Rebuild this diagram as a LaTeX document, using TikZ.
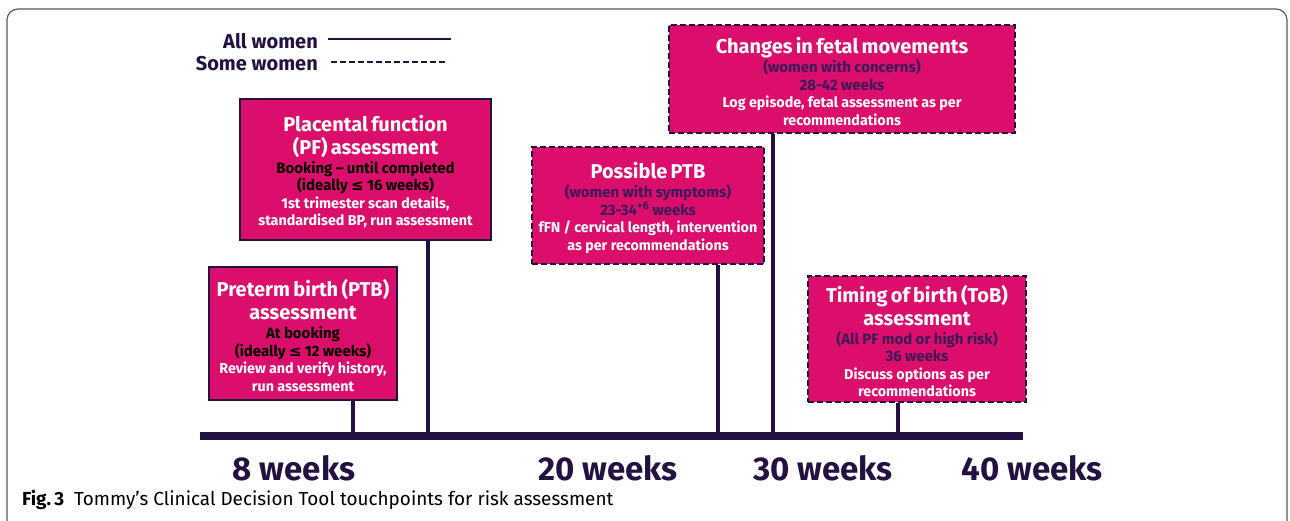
\documentclass[tikz,border=0pt]{standalone}
\usepackage{fontspec}
\setmainfont{Fira Sans}
\newfontfamily\symfont{DejaVu Sans}
\usetikzlibrary{calc}
\definecolor{magbox}{RGB}{220,14,108}
\definecolor{navy}{RGB}{36,17,66}
\definecolor{plum}{RGB}{62,24,88}
\definecolor{frame}{RGB}{90,90,90}
\newcommand{\hdline}[1]{{\fontsize{20}{23}\selectfont\color{white}\rule{0pt}{21pt}#1\par}}
\newcommand{\whenline}[2]{\vspace{1.5pt}{\fontsize{15}{17.5}\selectfont\color{#1}#2\par}}
\newcommand{\doline}[1]{{\fontsize{14.3}{17.5}\selectfont\color{white}#1\par}}
\newcommand{\lessEq}{{\symfont\bfseries ≤}}

\begin{document}
\begin{tikzpicture}[x=1pt,y=-1pt,
  box/.style={draw=navy, line width=2.6pt, fill=magbox, align=center, inner sep=0pt, font=\bfseries},
  somebox/.style={box, dash pattern=on 6pt off 3pt},
  stem/.style={navy, line width=4.5pt},
  wklabel/.style={text=navy, font=\bfseries\fontsize{33}{33}\selectfont, inner sep=0pt},
  legend/.style={text=navy, font=\bfseries\fontsize{20}{20}\selectfont, anchor=east, inner sep=0pt}]
\useasboundingbox (0,0) rectangle (1290,521);
% frame round the figure
\begin{scope}
\clip (0,0) rectangle (1290,521);
\draw[frame, line width=1.2pt, rounded corners=11pt] (7,9) rectangle (1287,532);
\end{scope}

% legend
\node[legend] (allw) at (318,41) {All women};
\node[legend] (somew) at (318,64) {Some women};
\coordinate (allend) at (451,39);
\coordinate (someend) at (447,62);
\draw[navy, line width=2.4pt] ([xshift=10pt]allw.east |- allend) -- (allend);
\draw[navy, line width=2.4pt, dash pattern=on 6pt off 3pt] ([xshift=13pt]somew.east |- someend) -- (someend);

% timeline
\coordinate (tl0) at (200,436);
\coordinate (tl1) at (1023,436);
\draw[navy, line width=8pt] (tl0) -- (tl1);

% touchpoint boxes
\node[box, minimum width=251pt, minimum height=141pt, text width=247pt] (pf) at (365.5,169.5) {%
\hdline{Placental function\\(PF) assessment}%
\whenline{black}{Booking -- until completed\\(ideally \lessEq{} 16 weeks)}%
\doline{1st trimester scan details,\\standardised BP, run assessment}};

\node[box, minimum width=188pt, minimum height=133pt, text width=184pt] (ptb) at (303,333.5) {%
\hdline{Preterm birth (PTB)\\assessment}%
\whenline{black}{At booking\\(ideally \lessEq{} 12 weeks)}%
\doline{Review and verify history,\\run assessment}};

\node[somebox, minimum width=232pt, minimum height=117pt, text width=228pt] (posptb) at (648,205.5) {%
\hdline{Possible PTB}%
\whenline{plum}{(women with symptoms)\\23-34\textsuperscript{+6} weeks}%
\doline{fFN / cervical length, intervention\\as per recommendations}};

\node[somebox, minimum width=346pt, minimum height=108pt, text width=342pt] (fetal) at (842,79) {%
\hdline{Changes in fetal movements}%
\whenline{plum}{(women with concerns)\\28-42 weeks}%
\doline{Log episode, fetal assessment as per\\recommendations}};

\node[somebox, minimum width=218pt, minimum height=126pt, text width=214pt] (tob) at (917,339) {%
\hdline{Timing of birth (ToB)\\assessment}%
\whenline{plum}{(All PF mod or high risk)\\36 weeks}%
\doline{Discuss options as per\\recommendations}};

% stems down to the timeline
\foreach \n/\x in {ptb/353, pf/428, posptb/718, fetal/773, tob/898} {
  \coordinate (t-\n) at (\x,436);
  \draw[stem] (t-\n) -- (t-\n |- \n.south);
}

% weeks
\foreach \w/\x in {8/294, 20/608, 30/823, 40/1032}
  \node[wklabel] (wk\w) at (\x,468) {\w\ weeks};

% caption
\node[anchor=west, inner sep=0pt, font=\fontsize{18.9}{18.9}\selectfont] (caption) at (22,500)
  {\textbf{Fig.\,3}\ \ Tommy’s Clinical Decision Tool touchpoints for risk assessment};
\end{tikzpicture}
\end{document}
